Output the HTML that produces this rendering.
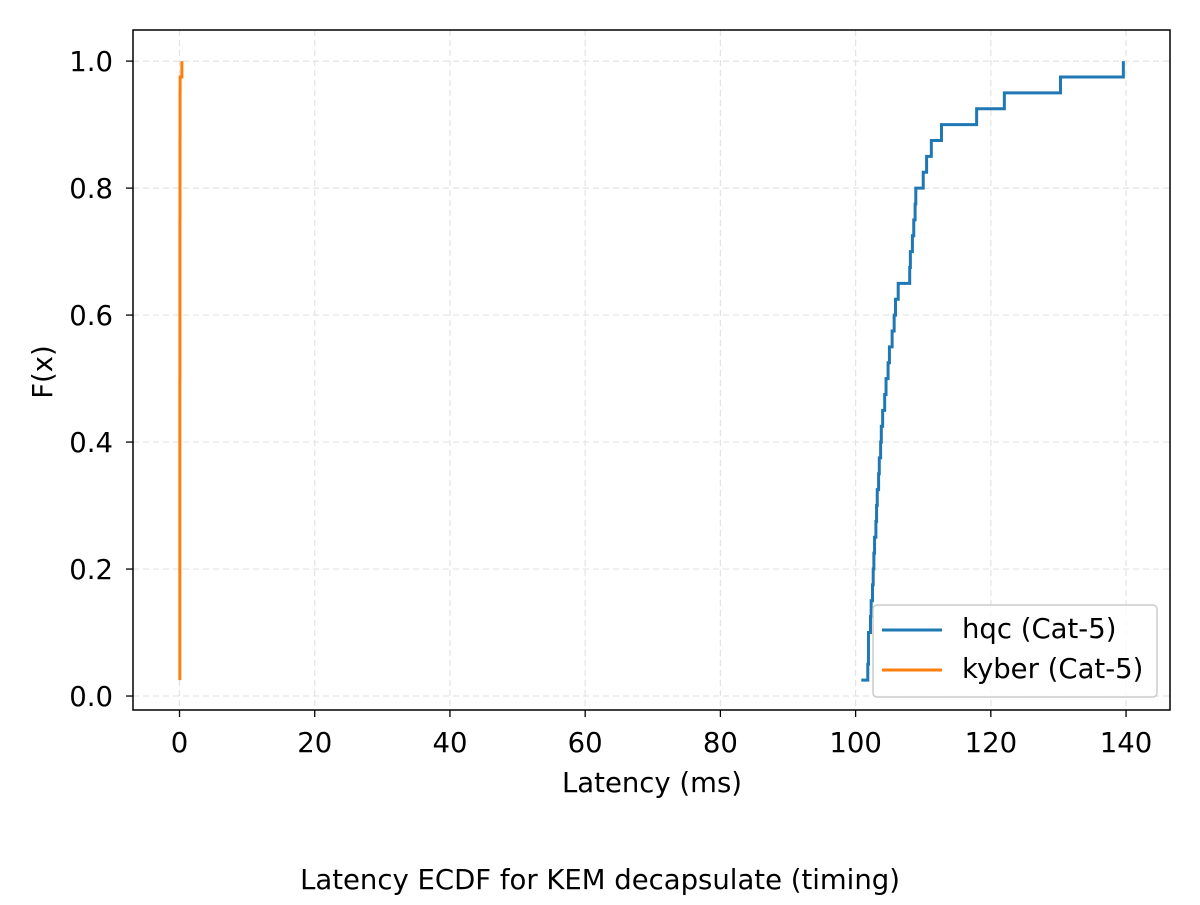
<!DOCTYPE html>
<html><head><meta charset="utf-8"><style>
body{margin:0;background:#fff;}
svg text{font-family:"DejaVu Sans","Liberation Sans",sans-serif;fill:#000;}
</style></head><body>
<svg id="chart" width="1200" height="900" viewBox="0 0 1200 900" xmlns="http://www.w3.org/2000/svg">
<rect width="1200" height="900" fill="#fff"/>
<g id="grid"></g>
<g id="series"></g>
<rect x="133" y="30" width="1037" height="680" fill="none" stroke="#000" stroke-width="1.5"/>
<g id="ticks"></g>
<text x="652" y="792" font-size="27.5" text-anchor="middle">Latency (ms)</text>
<text transform="translate(52,372) rotate(-90)" font-size="27.5" text-anchor="middle">F(x)</text>
<text x="600" y="889" font-size="27.5" text-anchor="middle">Latency ECDF for KEM decapsulate (timing)</text>
<g>
<rect x="873" y="605" width="284" height="92" rx="4" fill="#fff" fill-opacity="0.8" stroke="#ccc" stroke-width="1.5"/>
<line x1="882" y1="630" x2="942" y2="630" stroke="#1f77b4" stroke-width="3"/>
<text x="962" y="638" font-size="27.5">hqc (Cat-5)</text>
<line x1="882" y1="670" x2="942" y2="670" stroke="#ff7f0e" stroke-width="3"/>
<text x="962" y="678" font-size="27.5">kyber (Cat-5)</text>
</g>
</svg>
<script>
const hqcLatencies = [100.84,101.8,101.9,101.9,102.2,102.3,102.5,102.6,102.7,102.8,103.0,103.1,103.2,103.4,103.5,103.7,103.8,104.0,104.3,104.5,104.8,105.0,105.4,105.7,105.9,106.3,108.0,108.1,108.4,108.6,108.8,108.9,110.0,110.5,111.2,112.7,117.9,122.0,130.3,139.6];
const kyberLatencies = [0.05,0.05,0.05,0.05,0.05,0.05,0.05,0.05,0.05,0.05,0.05,0.05,0.05,0.05,0.05,0.05,0.05,0.05,0.05,0.05,0.06,0.06,0.06,0.06,0.06,0.06,0.06,0.06,0.06,0.06,0.07,0.07,0.07,0.07,0.07,0.08,0.08,0.08,0.09,0.35];
const xTicks = [0,20,40,60,80,100,120,140];
const yTicks = [0.0,0.2,0.4,0.6,0.8,1.0];
const NS="http://www.w3.org/2000/svg";
const L=133,R=1170,T=30,B=710;
const xMin=-6.88,xMax=146.5,yMin=-0.022,yMax=1.049;
function sx(v){return L+(v-xMin)/(xMax-xMin)*(R-L);}
function sy(v){return B-(v-yMin)/(yMax-yMin)*(B-T);}
function mk(tag,attrs,parent){const e=document.createElementNS(NS,tag);for(const k in attrs)e.setAttribute(k,attrs[k]);parent.appendChild(e);return e;}
const grid=document.getElementById('grid'),ticks=document.getElementById('ticks'),series=document.getElementById('series');
xTicks.forEach(t=>{
  const x=sx(t);
  const g=mk('line',{x1:x,x2:x,y1:T,y2:B,stroke:'#e3e3e3','stroke-width':1.2,'stroke-dasharray':'6,4'},grid);
  
  
  const tk=mk('line',{x1:x,x2:x,y1:B,y2:B+7,stroke:'#000','stroke-width':1.3},ticks);
  
  
  const tx=mk('text',{x:x,y:752,'font-size':27.5,'text-anchor':'middle'},ticks);
  tx.textContent=String(t);
  
  
});
yTicks.forEach(t=>{
  const y=sy(t);
  const g=mk('line',{x1:L,x2:R,y1:y,y2:y,stroke:'#e3e3e3','stroke-width':1.2,'stroke-dasharray':'6,4'},grid);
  
  
  const tk=mk('line',{x1:L-7,x2:L,y1:y,y2:y,stroke:'#000','stroke-width':1.3},ticks);
  
  
  const tx=mk('text',{x:L-20,y:y+10,'font-size':27.5,'text-anchor':'end'},ticks);
  tx.textContent=t.toFixed(1);
  
  
});
function ecdfPath(vals){
  const s=vals.slice().sort((a,b)=>a-b),n=s.length;let d='';
  for(let i=0;i<n;i++){
    const y=sy((i+1)/n),x=sx(s[i]);
    if(i===0)d+='M'+x+','+y;else d+=' H'+x+' V'+y;
  }
  return d;
}
const p1=mk('path',{d:ecdfPath(hqcLatencies),fill:'none',stroke:'#1f77b4','stroke-width':3},series);


const p2=mk('path',{d:ecdfPath(kyberLatencies),fill:'none',stroke:'#ff7f0e','stroke-width':3},series);


</script>
</body></html>
